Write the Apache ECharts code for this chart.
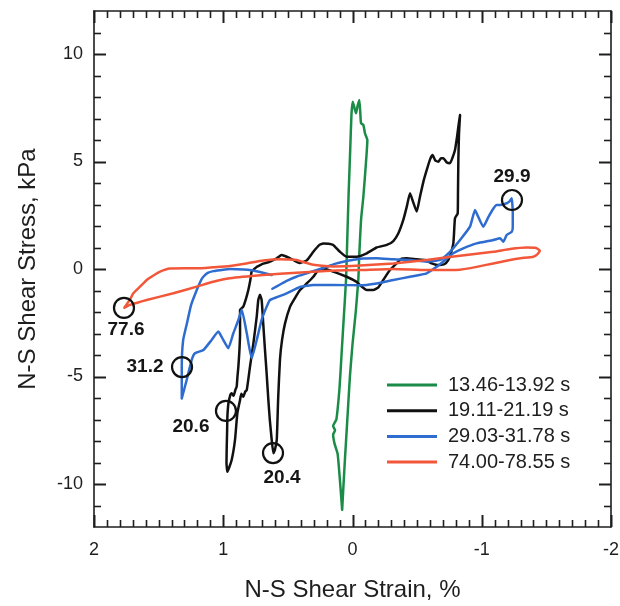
<!DOCTYPE html>
<html>
<head>
<meta charset="utf-8">
<script src="https://cdn.jsdelivr.net/npm/echarts@6/dist/echarts.min.js"></script>
<style>
html,body{margin:0;padding:0;background:#fff;}
#chart{width:620px;height:606px;}
</style>
</head>
<body>
<div id="chart"></div>
<script>
// ---- data (strain %, stress kPa) ----
const seriesNames = ['13.46-13.92 s', '19.11-21.19 s', '29.03-31.78 s', '74.00-78.55 s'];

const greenStrain = [0.08,0.095,0.115,0.14,0.15,0.135,0.15,0.125,0.1,0.085,0.07,0.05,0.04,0.03,0.018,0.008,-0.002,-0.015,-0.027,-0.04,-0.053,-0.06,-0.066,-0.084,-0.097,-0.115,-0.104,-0.084,-0.066,-0.053,-0.045,-0.025,0.0,0.02,0.04,0.058,0.072,0.08];
const greenStress = [-11.2,-10,-8.6,-8.1,-7.7,-7.5,-7.3,-7.0,-5.5,-4,-2.5,-0.5,1.5,3.5,5.5,7.2,7.78,7.5,7.24,7.6,7.86,7.3,6.78,6.7,6.3,6.0,4.93,3.36,2.28,0.74,-0.5,-2,-3.5,-5,-7,-8.8,-10.3,-11.2];

const blackStrain = [0.741,0.69,0.638,0.586,0.548,0.509,0.458,0.406,0.354,0.303,0.26,0.226,0.185,0.149,0.097,0.045,-0.032,-0.11,-0.187,-0.265,-0.316,-0.355,-0.393,-0.42,-0.445,-0.47,-0.497,-0.522,-0.55,-0.574,-0.6,-0.62,-0.64,-0.664,-0.685,-0.703,-0.73,-0.754,-0.775,-0.793,-0.81,-0.819,-0.832,-0.824,-0.819,-0.816,-0.814,-0.793,-0.785,-0.78,-0.76,-0.741,-0.71,-0.677,-0.645,-0.613,-0.561,-0.497,-0.42,-0.38,-0.355,-0.29,-0.238,-0.2,-0.161,-0.11,-0.058,-0.032,0.045,0.149,0.226,0.27,0.303,0.35,0.406,0.45,0.483,0.522,0.545,0.561,0.575,0.586,0.6,0.612,0.625,0.64,0.651,0.665,0.677,0.69,0.703,0.716,0.729,0.741,0.767,0.793,0.818,0.83,0.845,0.86,0.87,0.891,0.909,0.935,0.968,0.975,0.973,0.97,0.968,0.96,0.945,0.935,0.92,0.905,0.896,0.89,0.883,0.875,0.87,0.87,0.845,0.825,0.806,0.79,0.78,0.741];
const blackStress = [0.1,0.25,0.34,0.5,0.65,0.57,0.42,0.28,0.4,0.8,1.1,1.19,1.17,1.12,0.8,0.57,0.57,0.73,1.0,1.12,1.3,1.66,2.28,2.9,3.52,3.1,2.67,3.36,4.1,4.6,5.1,5.3,5.05,4.99,5.15,5.15,4.95,4.92,5.2,5.53,6.2,6.62,7.16,6.3,5.07,3.5,2.59,2.36,1.6,1.19,0.7,0.42,0.22,0.19,0.2,0.26,0.42,0.45,0.5,0.48,0.34,-0.05,-0.51,-0.85,-0.98,-0.98,-0.75,-0.6,-0.36,-0.12,0.02,-0.1,-0.36,-0.65,-0.98,-1.4,-1.75,-2.53,-3.3,-4.2,-6,-7.95,-8.4,-8.57,-7.95,-7.0,-6.09,-4.8,-3.77,-2.6,-1.44,-1.2,-1.44,-2.22,-3.46,-4.54,-5.63,-5.7,-5.94,-5.8,-6.09,-6.71,-7.95,-8.88,-9.43,-9.0,-8.26,-7.5,-6.87,-6.25,-5.85,-5.78,-5.9,-5.6,-5.47,-5.0,-4.54,-3.8,-3.0,-1.9,-1.75,-1.4,-0.98,-0.5,-0.12,0.1];

const blueStrain = [0.62,0.56,0.509,0.43,0.354,0.28,0.2,0.13,0.071,0.0,-0.058,-0.187,-0.316,-0.445,-0.574,-0.677,-0.754,-0.832,-0.909,-0.948,-0.975,-1.012,-1.05,-1.089,-1.115,-1.141,-1.193,-1.215,-1.232,-1.24,-1.24,-1.232,-1.193,-1.167,-1.141,-1.089,-0.961,-0.857,-0.78,-0.716,-0.651,-0.574,-0.445,-0.316,-0.187,-0.058,0.149,0.303,0.406,0.509,0.58,0.638,0.664,0.703,0.741,0.78,0.818,0.857,0.883,0.922,0.961,1.0,1.038,1.09,1.154,1.219,1.244,1.283,1.321,1.321,1.31,1.28,1.25,1.205,1.17,1.154,1.12,1.077,1.0,0.948,0.845,0.78,0.716,0.625];
const blueStress = [-0.92,-0.72,-0.55,-0.35,-0.2,-0.05,0.1,0.25,0.34,0.42,0.48,0.5,0.45,0.42,0.34,0.42,0.8,1.35,1.97,2.74,2.4,1.97,2.4,2.8,2.98,2.98,3.06,3.15,3.29,2.6,1.97,1.73,1.58,1.27,1.43,1.35,1.19,0.96,0.73,0.42,0.1,-0.2,-0.36,-0.51,-0.67,-0.76,-0.74,-0.74,-0.84,-1.13,-1.3,-1.44,-1.75,-2.37,-3.3,-4.15,-2.99,-1.9,-2.37,-2.99,-3.69,-3.3,-2.91,-3.3,-3.77,-3.92,-4.23,-5.16,-6.02,-4.56,-3.3,-2.5,-1.7,-0.98,-0.5,-0.36,-0.18,-0.1,-0.03,0.0,-0.02,-0.06,-0.14,-0.28];

const redStrain = [1.765,1.72,1.696,1.64,1.592,1.54,1.489,1.412,1.3,1.205,1.08,0.948,0.819,0.69,0.561,0.5,0.432,0.37,0.303,0.149,-0.058,-0.316,-0.574,-0.832,-1.089,-1.219,-1.348,-1.42,-1.45,-1.43,-1.399,-1.3,-1.219,-1.089,-0.961,-0.832,-0.574,-0.316,-0.058,0.174,0.432,0.69,0.948,1.077,1.205,1.386,1.592,1.721,1.765];
const redStress = [-1.8,-1.4,-1.13,-0.8,-0.51,-0.3,-0.12,0.02,0.03,0.03,0.08,0.14,0.26,0.39,0.45,0.44,0.42,0.3,0.2,0.12,0.16,0.26,0.42,0.62,0.8,0.93,1.0,0.98,0.85,0.68,0.57,0.5,0.42,0.26,0.1,-0.03,-0.05,0.0,-0.05,-0.08,-0.17,-0.28,-0.43,-0.59,-0.82,-1.13,-1.44,-1.67,-1.8];

// annotated instants (time s) with their loop positions
const markTime   = ['77.6', '31.2', '20.6', '20.4', '29.9'];
const markStrain = [1.768, 1.319, 0.979, 0.615, -1.234];
const markStress = [-1.81, -4.56, -6.6, -8.56, 3.21];

// tick values
const xMajorTicks = [2, 1, 0, -1, -2];
const xMinorTicks = [1.9,1.8,1.7,1.6,1.5,1.4,1.3,1.2,1.1,0.9,0.8,0.7,0.6,0.5,0.4,0.3,0.2,0.1,
                     -0.1,-0.2,-0.3,-0.4,-0.5,-0.6,-0.7,-0.8,-0.9,-1.1,-1.2,-1.3,-1.4,-1.5,-1.6,-1.7,-1.8,-1.9];
const yMajorTicks = [-10, -5, 0, 5, 10];
const yMinorTicks = [-11,-9,-8,-7,-6,-4,-3,-2,-1,1,2,3,4,6,7,8,9,11];

// ---- styling ----
const FONT = 'Liberation Sans, Arial, Helvetica, sans-serif';
const INK = '#1e1e1e';
const colors = ['#1b8c48', '#111111', '#2f6cd0', '#f2573a'];
const markLabelOffset = [[2, 22], [-37, 0], [-35, 16], [9, 25], [0, -23]];
const MAJOR_LEN = 12, MINOR_LEN = 7;

function zip(a, b) { return a.map((v, i) => [v, b[i]]); }

const lineData = [
  zip(greenStrain, greenStress),
  zip(blackStrain, blackStress),
  zip(blueStrain, blueStress),
  zip(redStrain, redStress)
];

const chart = echarts.init(document.getElementById('chart'), null, {renderer: 'canvas'});

// tick marks on all four frame sides, placed through the axes' own scales
function xTickRenderer(len, w) {
  return function (params, api) {
    const v = api.value(0);
    const b = api.coord([v, -12]);
    const t = api.coord([v, 12]);
    const x = Math.round(b[0]) + 0.5;
    const st = {stroke: INK, lineWidth: w, opacity: 1};
    return {type: 'group', children: [
      {type: 'line', shape: {x1: x, y1: b[1], x2: x, y2: b[1] - len}, style: st},
      {type: 'line', shape: {x1: x, y1: t[1], x2: x, y2: t[1] + len}, style: st}
    ]};
  };
}
function yTickRenderer(len, w) {
  return function (params, api) {
    const v = api.value(1);
    const l = api.coord([2, v]);
    const r = api.coord([-2, v]);
    const y = Math.round(l[1]) + 0.5;
    const st = {stroke: INK, lineWidth: w, opacity: 1};
    return {type: 'group', children: [
      {type: 'line', shape: {x1: l[0], y1: y, x2: l[0] + len, y2: y}, style: st},
      {type: 'line', shape: {x1: r[0], y1: y, x2: r[0] - len, y2: y}, style: st}
    ]};
  };
}
function tickSeries(data, renderer) {
  return {type: 'custom', coordinateSystem: 'cartesian2d', xAxisIndex: 0, yAxisIndex: 0,
    data: data, renderItem: renderer, silent: true, clip: false, z: 20, animation: false};
}

const lineStyle = {color: INK, width: 1.6};

const option = {
  animation: false,
  backgroundColor: '#fff',
  grid: {left: 94, right: 9, top: 11, bottom: 79, containLabel: false, outerBoundsMode: 'none'},
  xAxis: [
    {
      type: 'value', min: -2, max: 2, interval: 1, inverse: true, position: 'bottom',
      splitLine: {show: false},
      axisLine: {show: true, onZero: false, lineStyle: lineStyle},
      axisTick: {show: false},
      axisLabel: {show: true, color: INK, fontSize: 18, fontFamily: FONT, margin: 14},
      name: 'N-S Shear Strain, %', nameLocation: 'middle', nameGap: 51,
      nameTextStyle: {color: INK, fontSize: 24, fontFamily: FONT}
    },
    {
      type: 'value', min: -2, max: 2, interval: 1, inverse: true, position: 'top',
      splitLine: {show: false},
      axisLine: {show: true, onZero: false, lineStyle: lineStyle},
      axisTick: {show: false},
      axisLabel: {show: false}
    }
  ],
  yAxis: [
    {
      type: 'value', min: -12, max: 12, interval: 1, position: 'left',
      splitLine: {show: false},
      axisLine: {show: true, onZero: false, lineStyle: lineStyle},
      axisTick: {show: false},
      axisLabel: {show: true, color: INK, fontSize: 18, fontFamily: FONT, margin: 11,
        customValues: yMajorTicks, formatter: v => String(v)},
      name: 'N-S Shear Stress, kPa', nameLocation: 'middle', nameGap: 54, nameRotate: 90,
      nameTextStyle: {color: INK, fontSize: 24, fontFamily: FONT}
    },
    {
      type: 'value', min: -12, max: 12, interval: 1, position: 'right',
      splitLine: {show: false},
      axisLine: {show: true, onZero: false, lineStyle: lineStyle},
      axisTick: {show: false},
      axisLabel: {show: false}
    }
  ],
  legend: {
    data: seriesNames,
    orient: 'vertical',
    left: 387, top: 375, padding: 0,
    itemWidth: 50, itemHeight: 3, itemGap: 5.7,
    icon: 'rect',
    textStyle: {color: INK, fontSize: 20, fontFamily: FONT, padding: [0, 0, 0, 6], lineHeight: 20},
    selectedMode: false
  },
  series: [
    tickSeries(xMajorTicks.map(v => [v, 0]), xTickRenderer(MAJOR_LEN, 2)),
    tickSeries(xMinorTicks.map(v => [v, 0]), xTickRenderer(MINOR_LEN, 1.6)),
    tickSeries(yMajorTicks.map(v => [0, v]), yTickRenderer(MAJOR_LEN, 2)),
    tickSeries(yMinorTicks.map(v => [0, v]), yTickRenderer(MINOR_LEN, 1.6))
  ].concat(seriesNames.map((name, i) => ({
    name: name,
    type: 'line',
    xAxisIndex: 0, yAxisIndex: 0,
    data: lineData[i],
    showSymbol: false, symbol: 'none',
    smooth: 0.15,
    lineStyle: {color: colors[i], width: 2.5, join: 'round', cap: 'round'},
    itemStyle: {color: colors[i]},
    z: 2 + i
  }))).concat([{
    name: 'marks',
    type: 'scatter',
    xAxisIndex: 0, yAxisIndex: 0,
    symbol: 'circle', symbolSize: 20,
    itemStyle: {color: 'rgba(0,0,0,0)', borderColor: '#111', borderWidth: 2.2, opacity: 1},
    label: {show: true, position: 'inside', color: '#151515', fontSize: 19, fontWeight: 'bold', fontFamily: FONT,
      formatter: p => p.name},
    data: markTime.map((t, i) => ({
      name: t, value: [markStrain[i], markStress[i]],
      label: {offset: markLabelOffset[i]}
    })),
    silent: true,
    z: 10
  }])
};

chart.setOption(option);
</script>
</body>
</html>
